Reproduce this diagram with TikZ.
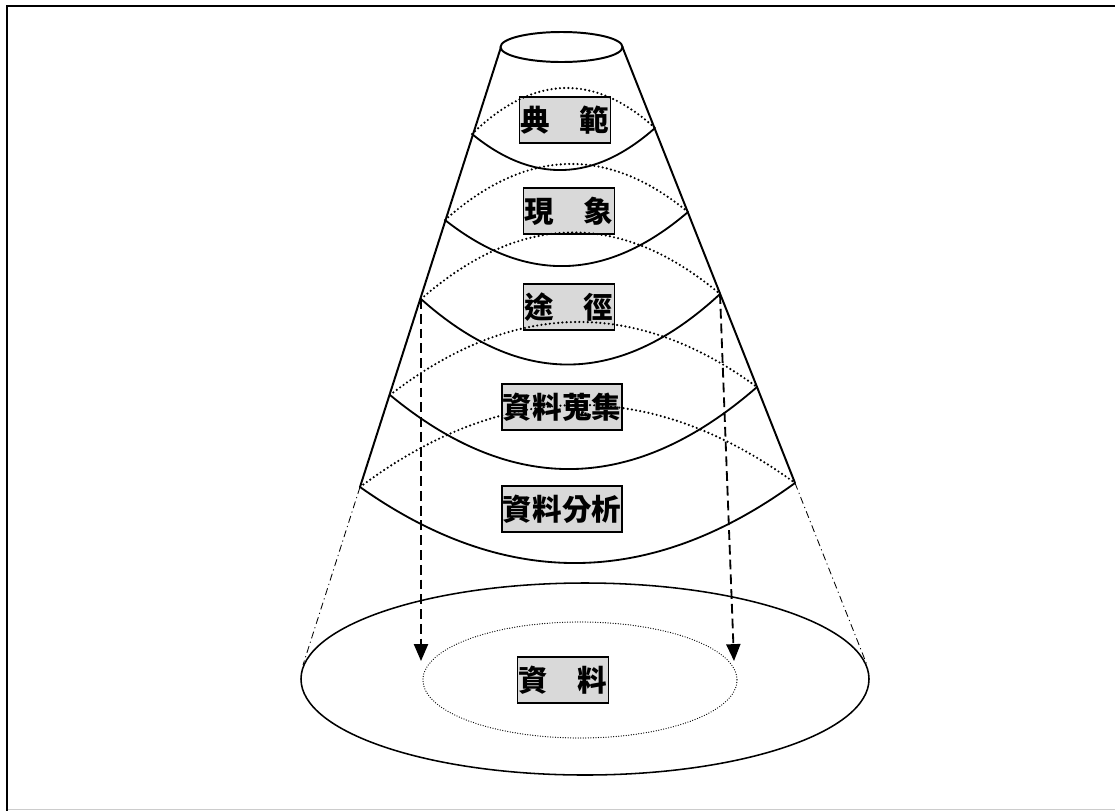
\documentclass[tikz,border=0pt]{standalone}
\usepackage{fontspec}
\newfontfamily\cjk{Noto Sans CJK TC}
\usetikzlibrary{calc,arrows.meta}

\begin{document}
\begin{tikzpicture}[x=0.025cm, y=-0.025cm,
	lbl/.style = {draw, line width=1.1pt, fill=black!15, inner xsep=0.8pt, inner ysep=0pt, minimum height=33pt,
		font=\cjk\bfseries\fontsize{21pt}{21pt}\selectfont},
	dotarc/.style = {line width=1.7pt, line cap=round, dash pattern=on 0pt off 3pt},
	solidarc/.style = {line width=1.3pt},
	dasharrow/.style = {line width=1.3pt, dash pattern=on 7pt off 3.5pt, -{Triangle[width=10pt,length=12pt]}},
	dashdot/.style = {line width=0.6pt, dash pattern=on 5pt off 2.5pt on 0.8pt off 2.5pt}]
	\useasboundingbox (0,0) rectangle (1115,810);
	% frame
	\draw [line width=1.4pt] (7,830) |- (1130,6);
	\draw [black!20, line width=1pt] (8,809.5) -- (1115,809.5);
	% cone
	\coordinate (TL) at (501,47);
	\coordinate (TR) at (622,46);
	\coordinate (L1) at (472,134); \coordinate (R1) at (655,128);
	\coordinate (L2) at (445,220); \coordinate (R2) at (688,212);
	\coordinate (L3) at (421,299); \coordinate (R3) at (720,294);
	\coordinate (L4) at (390,395); \coordinate (R4) at (757,387);
	\coordinate (L5) at (360,487); \coordinate (R5) at (795,483);
	\draw [line width=1.4pt] (TL) -- (L5);
	\draw [line width=1.4pt] (TR) -- (R5);
	\draw [line width=1.4pt, fill=white] (561.5,47) ellipse [x radius=61, y radius=15];
	\foreach \n/\dn in {1/39, 2/50, 3/68, 4/78, 5/78}
		\draw [solidarc] (L\n) .. controls ($(L\n)!1/3!(R\n)+(0,{4*\dn/3})$) and ($(L\n)!2/3!(R\n)+(0,{4*\dn/3})$) .. (R\n);
	% levels
	\node [lbl] (dian) at (565,120) {典　範};
	\node [lbl] (xian) at (569,211) {現　象};
	\node [lbl] (tu) at (569,307) {途　徑};
	\node [lbl] (shou) at (562,407) {資料蒐集};
	\node [lbl] (fen) at (562,509) {資料分析};
	\foreach \n/\up in {1/43, 2/52, 3/64, 4/69, 5/80}
		\draw [dotarc] (L\n) .. controls ($(L\n)!1/3!(R\n)+(0,{-4*\up/3})$) and ($(L\n)!2/3!(R\n)+(0,{-4*\up/3})$) .. (R\n);
	% base
	\coordinate (el) at (303,665);
	\coordinate (er) at (867,665);
	\draw [dashdot] (L5) -- (el);
	\draw [dashdot] (R5) -- (er);
	\draw [line width=1.1pt] (585,679) ellipse [x radius=284, y radius=96];
	\draw [line width=0.9pt, line cap=round, dash pattern=on 0pt off 1.8pt] (580,680) ellipse [x radius=157, y radius=58];
	\node [lbl] (ziliao) at (563,680) {資　料};
	\coordinate (la) at (421,661);
	\coordinate (ra) at (734,661);
	\draw [dasharrow] (L3) -- (la);
	\draw [dasharrow] (R3) -- (ra);
\end{tikzpicture}
\end{document}
